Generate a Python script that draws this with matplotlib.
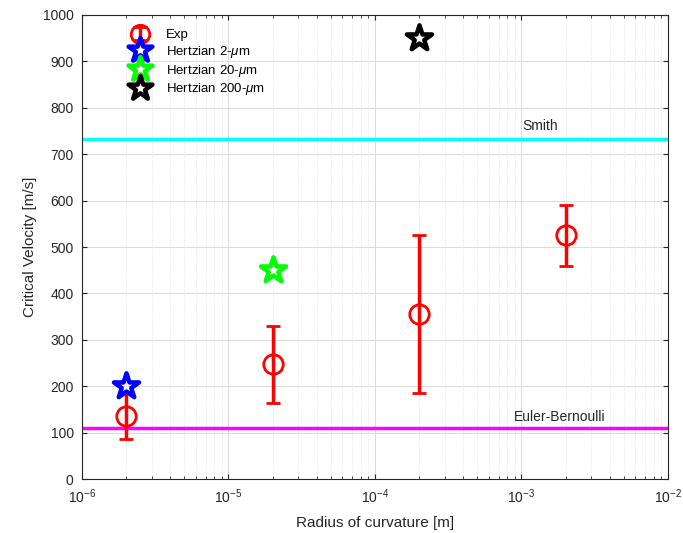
import numpy as np
import matplotlib.pyplot as plt
from matplotlib.path import Path
from matplotlib.markers import MarkerStyle

plt.rcParams['font.family'] = ['Liberation Sans', 'DejaVu Sans']
plt.rcParams['mathtext.fontset'] = 'custom'
plt.rcParams['mathtext.it'] = 'Liberation Sans:italic'
plt.rcParams['mathtext.rm'] = 'Liberation Sans'

# experimental data
radius = np.array([2e-6, 2e-5, 2e-4, 2e-3])
v_exp = np.array([136, 247, 355, 525])
v_low = np.array([87, 165, 185, 460])
v_high = np.array([185, 330, 527, 590])

# hertzian predictions
hz_r = [2e-6, 2e-5, 2e-4]
hz_v = [200, 450, 950]
hz_labels = ['Hertzian 2-$\\mu$m', 'Hertzian 20-$\\mu$m', 'Hertzian 200-$\\mu$m']
hz_colors = ['blue', '#00ff00', 'black']

v_smith = 733
v_euler = 110

# pentagram marker like matlab
ang = np.pi / 2 + np.arange(10) * np.pi / 5
rad = np.where(np.arange(10) % 2 == 0, 1.0, 0.38)
verts = np.column_stack([rad * np.cos(ang), rad * np.sin(ang)])
verts = np.vstack([verts, verts[0]])
star = MarkerStyle(Path(verts, closed=True), joinstyle='miter')

fig = plt.figure(figsize=(6.83, 5.33), dpi=100)
ax = fig.add_axes([0.12, 0.101, 0.858, 0.871])

ax.axhline(v_smith, color='cyan', lw=2.5, zorder=2)
ax.axhline(v_euler, color='magenta', lw=2.5, zorder=2)
ax.text(1.34e-3, v_smith + 12, 'Smith', fontsize=10, ha='center', va='bottom', color='#262626')
ax.text(1.83e-3, v_euler + 8, 'Euler-Bernoulli', fontsize=10, ha='center', va='bottom', color='#262626')

eb = ax.errorbar(radius, v_exp, yerr=[v_exp - v_low, v_high - v_exp], fmt='o', color='red',
                 mfc='none', ms=14, mew=2, elinewidth=2.5, capsize=5, capthick=2.5,
                 label='Exp', zorder=4)
handles = [eb]
for r, v, lab, c in zip(hz_r, hz_v, hz_labels, hz_colors):
    h, = ax.plot(r, v, marker=star, ls='none', color=c, mfc='none', ms=19, mew=3.2,
                 label=lab, zorder=5)
    handles.append(h)

ax.set_xscale('log')
ax.set_xlim(1e-6, 1e-2)
ax.set_ylim(0, 1000)
ax.set_yticks(np.arange(0, 1001, 100))
ax.grid(True, which='major', color='#dddddd', lw=0.8)
ax.grid(True, which='minor', color='#dddddd', lw=0.6, ls=':')
ax.tick_params(which='both', direction='in', labelsize=10, colors='#262626', top=True, right=True)
ax.tick_params(axis='x', pad=6)
ax.tick_params(axis='y', pad=6)
for s in ax.spines.values():
    s.set_color('#262626')
    s.set_linewidth(0.8)

ax.set_xlabel('Radius of curvature [m]', fontsize=11, color='#262626', labelpad=7)
ax.set_ylabel('Critical Velocity [m/s]', fontsize=11, color='#262626')

leg = ax.legend(handles=handles, loc='upper left', bbox_to_anchor=(0.065, 0.995), frameon=False,
                fontsize=9.5, handlelength=1.2, handletextpad=1.4, labelspacing=0.2,
                markerscale=0.95)

fig.savefig('out.png', dpi=100)
